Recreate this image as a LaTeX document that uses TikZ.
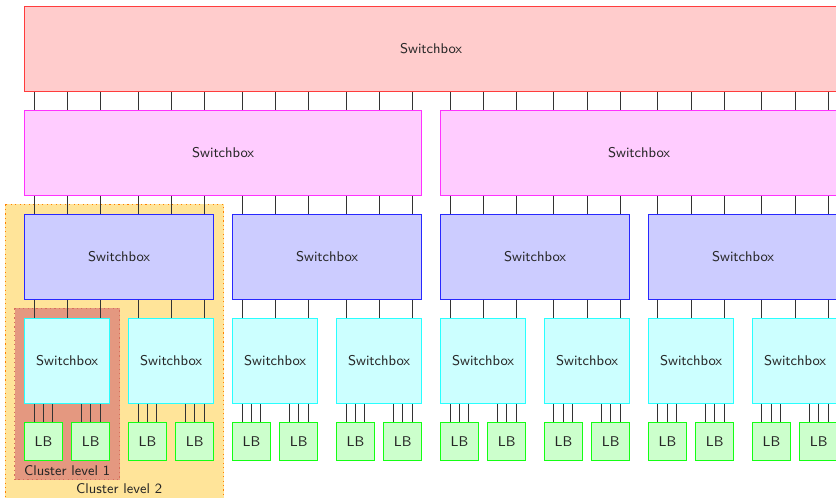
\documentclass[tikz,border=0pt]{standalone}
\usetikzlibrary{calc,backgrounds}
\definecolor{clustone}{RGB}{228,152,128}
\definecolor{clusttwo}{RGB}{255,228,153}
\definecolor{sbred}{RGB}{255,204,204}
\definecolor{sbpink}{RGB}{255,204,255}
\definecolor{sbblue}{RGB}{204,204,255}
\definecolor{sbcyan}{RGB}{204,255,255}
\definecolor{lbgreen}{RGB}{204,255,204}
\tikzset{sbox/.style={draw,rectangle,minimum height=1.8cm,inner sep=0pt,line width=0.6pt,text=black!85}}
\tikzset{redbox/.style={draw={rgb,255:red,255;green,60;blue,60},fill=sbred}}
\tikzset{pinkbox/.style={draw={rgb,255:red,255;green,50;blue,255},fill=sbpink}}
\tikzset{bluebox/.style={draw={rgb,255:red,40;green,40;blue,255},fill=sbblue}}
\tikzset{cyanbox/.style={draw={rgb,255:red,40;green,255;blue,255},fill=sbcyan}}
\tikzset{lbbox/.style={draw={rgb,255:red,20;green,255;blue,20},fill=lbgreen,minimum height=0.8cm,minimum width=0.8cm}}
\tikzset{wire/.style={line width=0.6pt,black!80}}
\tikzset{clustbox/.style={dotted,line width=0.7pt}}

\begin{document}
\begin{tikzpicture}[font=\fontsize{8.5}{10}\sffamily]
          \useasboundingbox (-0.52,0.135) rectangle (17.166,-10.4);

          % Switchboxes
          \begin{scope}[every node/.style={sbox}]
              \node [redbox,minimum width=17.2cm] (sbA) at (8.6,-0.9) {Switchbox};
              \foreach \i in {1,2}
                  \node [pinkbox,minimum width=8.4cm] (sbB-\i) at ({4.2+8.8*(\i-1)},-3.1) {Switchbox};
              \foreach \i in {1,...,4}
                  \node [bluebox,minimum width=4cm] (sbC-\i) at ({2+4.4*(\i-1)},-5.3) {Switchbox};
              \foreach \i in {1,...,8}
                  \node [cyanbox,minimum width=1.8cm] (sbD-\i) at ({0.9+2.2*(\i-1)},-7.5) {Switchbox};
          \end{scope}

          % LB
          \foreach \i in {1,...,16}
              \node [lbbox,line width=0.6pt,text=black!85] (lb-\i) at ({0.4+2.2*int((\i-1)/2)+mod(\i-1,2)},-9.2) {LB};

          % Clusters
          \node [anchor=base,text=black!85] (cl1) at ($(sbD-1.center |- lb-1.south)+(0,-0.31)$) {Cluster level 1};
          \node [anchor=base,text=black!85] (cl2) at ($(sbC-1.center |- lb-1.south)+(0,-0.685)$) {Cluster level 2};
          \begin{scope}[on background layer]
              \draw [clustbox,draw=orange,fill=clusttwo]
                  ($(sbC-1.north west)+(-0.4,0.2)$) rectangle ($(sbC-1.east |- lb-4.south)+(0.2,-0.8)$);
              \draw [clustbox,draw={rgb,255:red,215;green,110;blue,90},fill=clustone]
                  ($(sbD-1.north west)+(-0.2,0.2)$) rectangle ($(lb-2.south east)+(0.2,-0.4)$);
          \end{scope}

          % Wire points
          \foreach \k in {1,...,8}
              \foreach \j/\o in {1/-0.7,2/0,3/0.7}
                  \coordinate (w-\k-\j) at ($(sbD-\k.north)+(\o,0)$);
          \foreach \l in {1,...,16}
              \foreach \j/\o in {1/-0.2,2/0,3/0.2}
                  \coordinate (v-\l-\j) at ($(lb-\l.north)+(\o,0)$);

          % Wires
          \foreach \k [evaluate=\k as \pa using {int((\k+1)/2)},
                       evaluate=\k as \pb using {int((\k+3)/4)}] in {1,...,8}
              \foreach \j in {1,2,3} {
                  \draw [wire] (w-\k-\j |- sbA.south) -- (w-\k-\j |- sbB-\pb.north);
                  \draw [wire] (w-\k-\j |- sbB-\pb.south) -- (w-\k-\j |- sbC-\pa.north);
                  \draw [wire] (w-\k-\j |- sbC-\pa.south) -- (w-\k-\j |- sbD-\k.north);
              }
          \foreach \l [evaluate=\l as \pc using {int((\l+1)/2)}] in {1,...,16}
              \foreach \j in {1,2,3}
                  \draw [wire] (v-\l-\j |- sbD-\pc.south) -- (v-\l-\j);
\end{tikzpicture}
\end{document}
